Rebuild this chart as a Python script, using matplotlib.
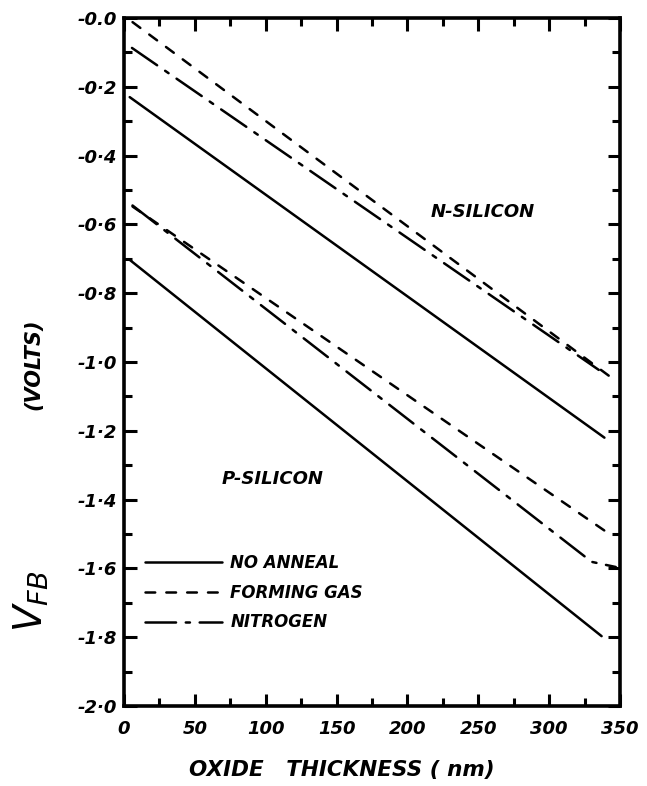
import matplotlib
matplotlib.use("Agg")
import matplotlib.pyplot as plt
from matplotlib.ticker import MultipleLocator, FixedLocator

plt.rcParams["lines.scale_dashes"] = False

# Flat-band voltage vs oxide thickness (straight-line fits, end points)
n_no_anneal_x = [4, 339]
n_no_anneal_v = [-0.23, -1.22]
n_forming_x = [6, 348]
n_forming_v = [-0.012, -1.058]
n_nitrogen_x = [5.6, 335]
n_nitrogen_v = [-0.087, -1.023]

p_no_anneal_x = [4, 337]
p_no_anneal_v = [-0.703, -1.797]
p_forming_x = [6, 339]
p_forming_v = [-0.548, -1.49]
p_nitrogen_x = [6, 330, 347]
p_nitrogen_v = [-0.545, -1.581, -1.596]

legend_labels = ["NO ANNEAL", "FORMING GAS", "NITROGEN"]
y_ticks = [0.0, -0.2, -0.4, -0.6, -0.8, -1.0, -1.2, -1.4, -1.6, -1.8, -2.0]
y_tick_labels = ["-0.0", "-0·2", "-0·4", "-0·6", "-0·8", "-1·0", "-1·2",
                 "-1·4", "-1·6", "-1·8", "-2·0"]
x_ticks = [0, 50, 100, 150, 200, 250, 300, 350]

FONT = dict(family="DejaVu Sans", fontstyle="italic", fontweight="bold")
INK = "black"

fig = plt.figure(figsize=(6.47, 7.86), dpi=100)
ax = fig.add_axes([0.1917, 0.1018, 0.7666, 0.8753])

lw = 1.8
solid = dict(color=INK, lw=lw, linestyle="-", solid_capstyle="round")
dashed = dict(color=INK, lw=lw, linestyle=(0, (7, 8)), dash_capstyle="round")
dashdot = dict(color=INK, lw=lw, linestyle=(0, (22, 7, 3, 7)), dash_capstyle="round")

h1, = ax.plot(n_no_anneal_x, n_no_anneal_v, **solid)
h2, = ax.plot(n_forming_x, n_forming_v, **dashed)
h3, = ax.plot(n_nitrogen_x, n_nitrogen_v, **dashdot)
ax.plot(p_no_anneal_x, p_no_anneal_v, **solid)
ax.plot(p_forming_x, p_forming_v, **dashed)
ax.plot(p_nitrogen_x, p_nitrogen_v, **dashdot)

ax.set_xlim(0, 350)
ax.set_ylim(-2.0, 0.0)

for s in ax.spines.values():
    s.set_linewidth(2.6)
    s.set_color(INK)

# Ticks: inward on all four sides
ax.xaxis.set_major_locator(FixedLocator(x_ticks))
ax.xaxis.set_minor_locator(MultipleLocator(25))
ax.yaxis.set_major_locator(FixedLocator(y_ticks))
ax.yaxis.set_minor_locator(MultipleLocator(0.1))
ax.tick_params(which="both", direction="in", top=True, right=True,
               color=INK, width=2.2)
ax.tick_params(which="major", length=9)
ax.tick_params(which="minor", length=6)
ax.tick_params(axis="x", which="major", labelsize=13, pad=10)
ax.tick_params(axis="y", which="major", labelsize=13, pad=5)

ax.set_yticklabels(y_tick_labels, **FONT)
ax.set_xticklabels([str(t) for t in x_ticks], **FONT)

ax.set_xlabel("OXIDE   THICKNESS ( nm)", fontsize=15.5, **FONT)
ax.xaxis.set_label_coords(0.44, -0.078)

# Axis title drawn in two sizes
fig.text(0.048, 0.235, r"$V_{FB}$", rotation=90, fontsize=28,
         ha="center", va="center", color=INK)
fig.text(0.052, 0.536, "(VOLTS)", rotation=90, fontsize=15,
         ha="center", va="center", color=INK, **FONT)

ax.text(216, -0.565, "N-SILICON", fontsize=13, ha="left", va="center", **FONT)
ax.text(69, -1.34, "P-SILICON", fontsize=13, ha="left", va="center", **FONT)

leg = ax.legend([h1, h2, h3], legend_labels, loc="upper left",
                bbox_to_anchor=(0.026, 0.233), frameon=False,
                handlelength=4.6, handletextpad=0.5, labelspacing=0.7,
                borderpad=0.0, prop=dict(family="DejaVu Sans", style="italic",
                                         weight="bold", size=12))

fig.savefig("out.png", dpi=100)
